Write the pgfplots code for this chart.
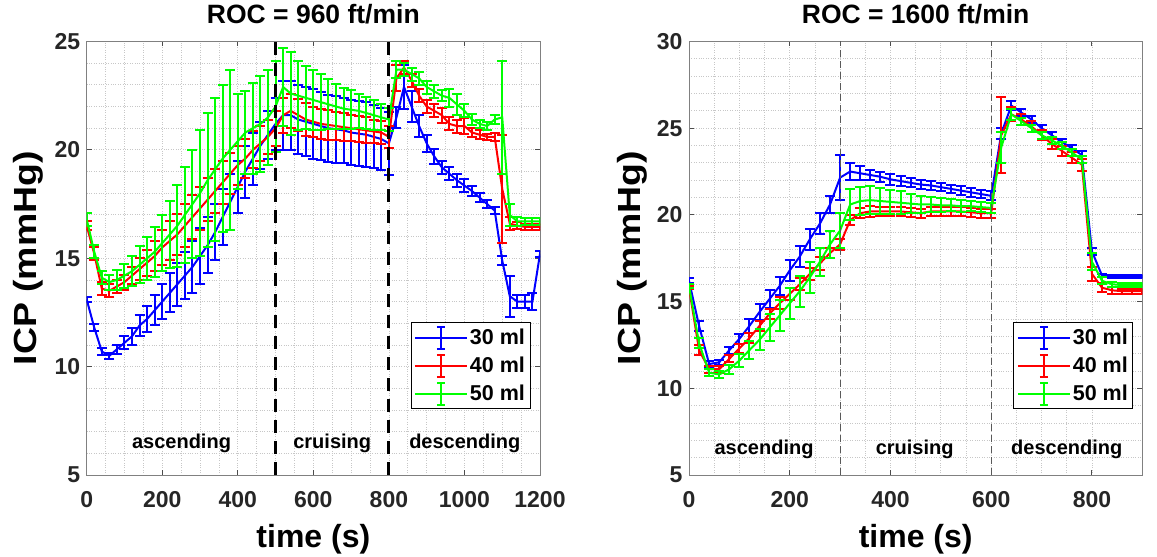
\documentclass[border=0pt]{standalone}
\usepackage{fontspec}
\setmainfont{Liberation Sans}
\usepackage{pgfplots}
\usepackage{pgfplotstable}
\pgfplotsset{compat=1.18}

\definecolor{mblue}{RGB}{0,0,255}
\definecolor{mred}{RGB}{255,0,0}
\definecolor{mgreen}{RGB}{0,255,0}

\pgfplotstableread{
t b be r re g ge
0 13.1 0.1 16.5 0.2 16.8 0.3
20 11.8 0.15 15.2 0.3 15.3 0.3
40 10.7 0.15 13.6 0.3 14.1 0.3
60 10.5 0.15 13.5 0.3 13.9 0.35
80 10.8 0.2 13.7 0.3 14.0 0.45
100 11.1 0.3 13.9 0.35 14.2 0.55
120 11.4 0.4 14.2 0.4 14.4 0.7
140 11.9 0.5 14.5 0.5 14.7 0.85
160 12.2 0.6 14.8 0.6 15.0 1.0
180 12.6 0.7 15.1 0.7 15.3 1.15
200 13.0 0.8 15.5 0.8 15.7 1.3
220 13.4 0.9 15.8 0.9 16.1 1.55
240 13.8 1.0 16.1 0.95 16.5 1.9
260 14.2 1.1 16.5 1.0 17.0 2.2
280 14.6 1.2 16.9 1.0 17.5 2.5
300 15.1 1.3 17.3 1.0 18.0 2.9
320 15.6 1.3 17.7 1.0 18.6 3.1
340 16.2 1.3 18.1 1.0 19.1 3.3
360 16.9 1.3 18.5 1.0 19.6 3.4
380 17.6 1.3 18.9 0.95 20.0 3.7
400 18.3 1.2 19.3 0.9 20.4 2.2
420 19.0 1.2 19.6 0.9 20.8 1.9
440 19.6 1.2 20.0 0.85 21.0 2.1
460 20.2 1.1 20.3 0.8 21.2 2.2
480 20.7 1.1 20.6 0.8 21.5 2.2
500 21.2 1.2 21.0 0.8 22.0 2.1
520 21.6 1.6 21.6 0.8 22.9 1.8
540 21.6 1.6 21.8 0.8 22.6 1.9
560 21.4 1.6 21.6 0.75 22.5 1.6
580 21.3 1.6 21.4 0.75 22.4 1.45
600 21.2 1.6 21.3 0.7 22.3 1.4
620 21.1 1.55 21.2 0.7 22.2 1.3
640 21.0 1.55 21.15 0.7 22.1 1.15
660 20.95 1.55 21.1 0.65 22.0 1.05
680 20.9 1.5 21.05 0.65 21.9 0.95
700 20.8 1.5 21.0 0.6 21.85 0.9
720 20.75 1.5 20.95 0.6 21.8 0.8
740 20.7 1.5 20.9 0.6 21.7 0.75
760 20.6 1.45 20.85 0.55 21.6 0.7
780 20.5 1.45 20.8 0.55 21.5 0.6
800 20.3 1.45 20.6 0.5 21.4 0.55
820 21.5 0.5 23.3 0.6 23.7 0.4
840 22.9 1.0 23.8 0.3 23.7 0.3
860 22.0 0.7 23.2 0.3 23.5 0.3
880 21.1 0.5 22.5 0.3 23.3 0.3
900 20.3 0.4 22.0 0.3 22.9 0.3
920 19.7 0.35 21.8 0.3 22.7 0.3
940 19.2 0.3 21.6 0.35 22.5 0.25
960 18.9 0.3 21.2 0.3 22.4 0.4
980 18.6 0.3 21.1 0.3 22.1 0.5
1000 18.35 0.3 21.1 0.35 21.8 0.3
1020 18.1 0.25 20.8 0.2 21.4 0.25
1040 17.8 0.2 20.7 0.2 21.2 0.2
1060 17.5 0.2 20.6 0.15 21.1 0.2
1080 17.2 0.15 20.6 0.2 21.4 0.2
1100 14.9 0.2 18.2 2.5 21.5 2.6
1120 13.25 0.95 16.6 0.3 17.0 0.5
1140 13.0 0.3 16.5 0.15 16.7 0.2
1160 13.0 0.3 16.45 0.15 16.7 0.15
1180 13.0 0.4 16.45 0.15 16.7 0.15
1200 15.2 0.15 16.45 0.15 16.7 0.15
}\lefttab

\pgfplotstableread{
t b be r re g ge
0 16.2 0.15 15.8 0.1 15.9 0.1
20 13.6 0.3 12.2 0.3 12.6 0.3
40 11.4 0.15 11.1 0.2 10.9 0.2
60 11.5 0.15 11.1 0.2 10.8 0.2
80 12.2 0.2 11.7 0.2 11.1 0.25
100 12.85 0.3 12.3 0.25 11.6 0.4
120 13.6 0.4 12.9 0.3 12.2 0.5
140 14.4 0.45 13.6 0.3 12.8 0.6
160 15.15 0.5 14.3 0.3 13.5 0.8
180 15.9 0.5 14.9 0.35 14.2 0.9
200 16.8 0.6 15.45 0.35 14.9 0.9
220 17.6 0.6 16.0 0.35 15.6 0.9
240 18.6 0.6 16.6 0.35 16.4 0.9
260 19.5 0.6 17.2 0.35 17.3 0.8
280 20.6 0.5 17.8 0.3 18.3 0.8
300 22.15 1.3 18.3 0.3 19.1 1.0
320 22.5 0.5 19.7 0.3 20.6 0.9
340 22.4 0.4 20.1 0.3 20.8 0.8
360 22.3 0.3 20.2 0.3 20.85 0.8
380 22.2 0.3 20.2 0.25 20.8 0.75
400 22.05 0.3 20.2 0.25 20.75 0.7
420 21.95 0.3 20.2 0.25 20.7 0.65
440 21.85 0.25 20.15 0.25 20.65 0.55
460 21.75 0.25 20.1 0.25 20.6 0.5
480 21.7 0.25 20.2 0.25 20.6 0.45
500 21.6 0.25 20.2 0.25 20.55 0.4
520 21.5 0.25 20.2 0.25 20.55 0.35
540 21.4 0.25 20.2 0.25 20.5 0.35
560 21.3 0.25 20.15 0.25 20.5 0.3
580 21.2 0.25 20.1 0.25 20.45 0.3
600 21.1 0.25 20.1 0.25 20.4 0.3
620 24.7 0.3 24.6 2.2 23.9 0.9
640 26.3 0.25 25.8 0.4 25.8 0.3
660 25.9 0.2 25.5 0.3 25.4 0.2
680 25.5 0.2 25.1 0.3 25.0 0.2
700 25.0 0.2 24.6 0.3 24.6 0.2
720 24.6 0.2 24.1 0.3 24.3 0.2
740 24.2 0.2 23.7 0.3 24.0 0.2
760 23.85 0.2 23.3 0.3 23.6 0.2
780 23.45 0.25 22.9 0.35 23.2 0.2
800 17.9 0.2 16.6 0.4 17.3 0.5
820 16.5 0.1 15.8 0.25 16.2 0.2
840 16.45 0.1 15.65 0.2 16.0 0.15
860 16.45 0.1 15.6 0.15 15.95 0.1
880 16.45 0.1 15.6 0.15 15.95 0.1
900 16.45 0.1 15.6 0.15 15.95 0.1
}\righttab

\tikzset{phase/.style={font=\bfseries\fontsize{20}{24}\selectfont, anchor=base}}

\pgfplotsset{
  panel/.style={
    scale only axis, width=453.3pt, height=433.5pt,
    axis line style={black!50, line width=0.9pt},
    grid=both,
    major grid style={dotted, black!22, line width=0.8pt},
    minor grid style={dotted, black!22, line width=0.8pt},
    minor x tick num=3, minor y tick num=4,
    major tick length=5pt, minor tick length=0pt,
    tick style={black!70, line width=0.9pt},
    tick pos=both,
    xticklabel pos=bottom, yticklabel pos=left,
    tick label style={font=\bfseries\fontsize{23}{26}\selectfont, text=black!85},
    xticklabel style={yshift=-13pt},
    yticklabel style={xshift=-3pt},
    /pgf/number format/assume math mode=true,
    /pgf/number format/1000 sep={},
    xlabel style={font=\bfseries\fontsize{32}{36}\selectfont, at={(axis description cs:0.5,-0.147)}, anchor=center},
    ylabel style={font=\bfseries\fontsize{32}{36}\selectfont},
    title style={at={(axis description cs:0.5,1.05)}, anchor=center},
    error bars/y dir=both,
    error bars/y explicit,
    error bars/error bar style={line width=2pt},
    error bars/error mark options={rotate=90, mark size=5pt, line width=2pt},
    legend style={draw=black, line width=0.8pt, fill=white,
      font=\bfseries\fontsize{21.5}{24}\selectfont,
      inner sep=3pt, row sep=4pt, anchor=north east},
    legend cell align=left,
    legend image code/.code={
      \draw[##1, line width=2pt] (0pt,0pt) -- (52pt,0pt);
      \draw[##1, line width=2pt] (26pt,-11pt) -- (26pt,11pt);
      \draw[##1, line width=2pt] (22pt,-11pt) -- (30pt,-11pt) (22pt,11pt) -- (30pt,11pt);
    },
  },
}

\begin{document}
\begin{tikzpicture}[x=1pt,y=1pt]
\path[use as bounding box] (0,0) rectangle (1157,557);

\begin{axis}[panel, at={(86.7pt,82pt)}, anchor=south west,
  xmin=0, xmax=1200, ymin=5, ymax=25,
  xtick={0,200,...,1200}, ytick={5,10,...,25},
  title={\bfseries\fontsize{26.5}{30}\selectfont ROC = 960 ft/min},
  xlabel={time (s)}, ylabel={\scalebox{1.17}[1]{ICP (mmHg)}},
  ylabel style={at={(axis description cs:-0.1295,0.5)}, anchor=center},
  legend style={at={(axis description cs:0.9786,0.352)}},
]
\addplot[mblue, line width=2pt] table[x=t, y=b, y error=be] \lefttab;
\addlegendentry{30 ml}
\addplot[mred, line width=2pt] table[x=t, y=r, y error=re] \lefttab;
\addlegendentry{40 ml}
\addplot[mgreen, line width=2pt] table[x=t, y=g, y error=ge] \lefttab;
\addlegendentry{50 ml}
\draw[black, line width=3pt, dash pattern=on 13pt off 8pt] (axis cs:500,5) -- (axis cs:500,25);
\draw[black, line width=3pt, dash pattern=on 13pt off 8pt] (axis cs:800,5) -- (axis cs:800,25);
\node[phase] at (axis cs:251,6.2) {ascending};
\node[phase] at (axis cs:650,6.2) {cruising};
\node[phase] at (axis cs:1001,6.2) {descending};
\end{axis}

\begin{axis}[panel, at={(689pt,82pt)}, anchor=south west,
  xmin=0, xmax=900, ymin=5, ymax=30,
  xtick={0,200,...,800}, ytick={5,10,...,30},
  title={\bfseries\fontsize{26.5}{30}\selectfont ROC = 1600 ft/min},
  xlabel={time (s)}, ylabel={\scalebox{1.17}[1]{ICP (mmHg)}},
  ylabel style={at={(axis description cs:-0.1258,0.5)}, anchor=center},
  legend style={at={(axis description cs:0.980,0.352)}},
]
\addplot[mblue, line width=2pt] table[x=t, y=b, y error=be] \righttab;
\addlegendentry{30 ml}
\addplot[mred, line width=2pt] table[x=t, y=r, y error=re] \righttab;
\addlegendentry{40 ml}
\addplot[mgreen, line width=2pt] table[x=t, y=g, y error=ge] \righttab;
\addlegendentry{50 ml}
\draw[black!65, line width=1pt, dash pattern=on 7pt off 4pt] (axis cs:300,5) -- (axis cs:300,30);
\draw[black!65, line width=1pt, dash pattern=on 7pt off 4pt] (axis cs:600,5) -- (axis cs:600,30);
\node[phase] at (axis cs:149,6.2) {ascending};
\node[phase] at (axis cs:448,6.2) {cruising};
\node[phase] at (axis cs:750,6.2) {descending};
\end{axis}
\end{tikzpicture}
\end{document}
